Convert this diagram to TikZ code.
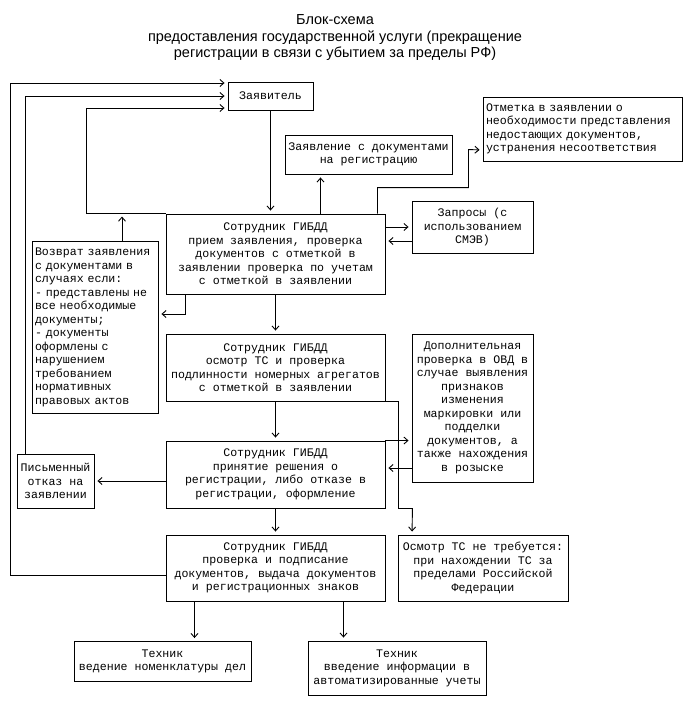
\documentclass[tikz,border=0pt]{standalone}
\usepackage{fontspec}
\setmainfont{Liberation Mono}
\newfontfamily\titlefont{Liberation Sans}
\usetikzlibrary{arrows.meta, calc}

\tikzset{
  block/.style={rectangle, draw, line width=0.9pt, inner sep=1pt, align=center, font=\fontsize{11.6}{13.5}\selectfont},
  arr/.style={-{Straight Barb[length=4pt, width=7pt]}, line width=0.9pt, shorten >=3pt},
}

\begin{document}
\begin{tikzpicture}[x=1pt, y=-1pt]
\useasboundingbox (0,0) rectangle (692,706);

% Title
\node[align=center, font=\titlefont\fontsize{14.5}{16.5}\selectfont] (title) at (335,38) {Блок-схема\\предоставления государственной услуги (прекращение\\регистрации в связи с убытием за пределы РФ)};

% Applicant and side boxes
\node[block, minimum width=85pt, minimum height=28pt] (zayav) at (270.5,96) {Заявитель};
\node[block, minimum width=167pt, minimum height=39pt] (zayavl) at (368.5,154.5) {Заявление с документами\\на регистрацию};
\node[block, minimum width=199pt, minimum height=64pt, text width=193pt, align=left] (otmetka) at (582.5,129) {Отметка в заявлении о\\необходимости представления\\недостающих документов,\\устранения несоответствия};
\node[block, minimum width=121pt, minimum height=52pt] (zaprosy) at (472.5,227) {Запросы (с\\использованием\\СМЭВ)};
\node[block, minimum width=126pt, minimum height=172pt, text width=120pt, align=left] (vozvrat) at (95,327.5) {Возврат заявления\\с документами в\\случаях если:\\- представлены не\\все необходимые\\документы;\\- документы\\оформлены с\\нарушением\\требованием\\нормативных\\правовых актов};

% Main steps
\node[block, minimum width=219pt, minimum height=80pt] (priem) at (275.5,254) {Сотрудник ГИБДД\\прием заявления, проверка\\документов с отметкой в\\заявлении проверка по учетам\\с отметкой в заявлении};
\node[block, minimum width=219pt, minimum height=67pt] (osmotr) at (275.5,367.5) {Сотрудник ГИБДД\\осмотр ТС и проверка\\подлинности номерных агрегатов\\с отметкой в заявлении};
\node[block, minimum width=219pt, minimum height=67pt] (reshenie) at (275.5,474.5) {Сотрудник ГИБДД\\принятие решения о\\регистрации, либо отказе в\\регистрации, оформление};
\node[block, minimum width=219pt, minimum height=66pt] (podpis) at (275.5,568) {Сотрудник ГИБДД\\проверка и подписание\\документов, выдача документов\\и регистрационных знаков};

% Checks and refusal
\node[block, minimum width=121pt, minimum height=148pt] (dop) at (472.5,408) {Дополнительная\\проверка в ОВД в\\случае выявления\\признаков\\изменения\\маркировки или\\подделки\\документов, а\\также нахождения\\в розыске};
\node[block, minimum width=77pt, minimum height=54pt] (otkaz) at (55.5,481) {Письменный\\отказ на\\заявлении};
\node[block, minimum width=170pt, minimum height=66pt] (netreb) at (483,568) {Осмотр ТС не требуется:\\при нахождении ТС за\\пределами Российской\\Федерации};

% Technicians
\node[block, minimum width=177pt, minimum height=40pt] (tech1) at (162.5,661.5) {Техник\\ведение номенклатуры дел};
\node[block, minimum width=178pt, minimum height=54pt] (tech2) at (397,668) {Техник\\введение информации в\\автоматизированные учеты};

% Connectors
\draw[arr] (zayav.south) -- (zayav.south |- priem.north);
\draw[arr] ([xshift=45pt]priem.north) -- ([xshift=45pt]priem.north |- zayavl.south);
\draw[arr] ([xshift=102pt]priem.north) -- ++(0,-26) -| ++(91,-38) -- ([yshift=-21pt]otmetka.west);
\draw[arr] (priem.east |- zaprosy.west) -- (zaprosy.west);
\draw[arr] ([yshift=-14pt]zaprosy.west) -- ([yshift=-14pt]zaprosy.west -| priem.east);
\draw[arr] ([xshift=-90pt]priem.south) |- ([yshift=13.5pt]vozvrat.east);
\draw[arr] ([xshift=27pt]vozvrat.north) -- ([xshift=27pt]vozvrat.north |- priem.north);
\draw[arr] (priem.north west) -- ++(-79,0) |- ([yshift=-12pt]zayav.west);
\draw[arr] ([xshift=-30pt]otkaz.north) |- (zayav.west);
\draw[arr] ([yshift=-7pt]podpis.west) -- ++(-155,0) |- ([yshift=13pt]zayav.west);

\draw[arr] (priem) -- (osmotr);
\draw[arr] (osmotr) -- (reshenie);
\draw[arr] (reshenie) -- (podpis);
\draw[arr] (osmotr.south east) -- ++(13,0) |- ++(14,107) -- ([xshift=-71pt]netreb.north);
\draw[arr] (reshenie.north east) -- (reshenie.north east -| dop.west);
\draw[arr] ([yshift=-60pt]dop.west) -- ([yshift=-60pt]dop.west -| reshenie.east);
\draw[arr] (reshenie.west |- otkaz.east) -- (otkaz.east);

\draw[arr] ([xshift=-81pt]podpis.south) -- ([xshift=-81pt]podpis.south |- tech1.north);
\draw[arr] ([xshift=68pt]podpis.south) -- ([xshift=68pt]podpis.south |- tech2.north);
\end{tikzpicture}
\end{document}
